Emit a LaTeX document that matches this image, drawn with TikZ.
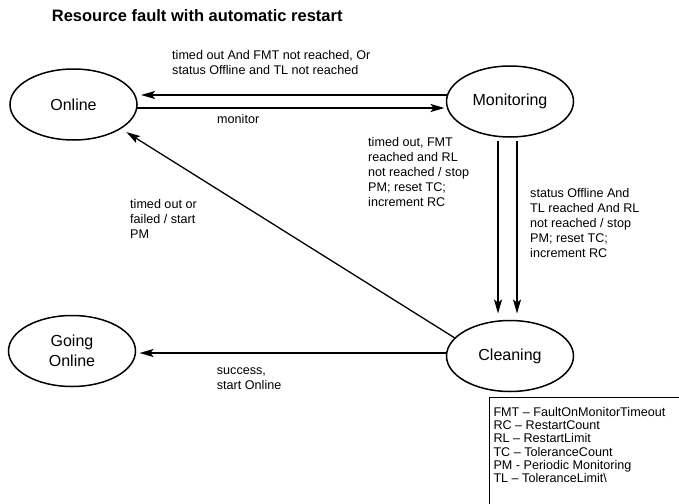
\documentclass[tikz,border=0pt]{standalone}
\usepackage{fontspec}
\setmainfont{Liberation Sans}
\usetikzlibrary{shapes.geometric,arrows.meta}
\newcommand{\fl}{\rule{0pt}{10pt}}
\begin{document}
\begin{tikzpicture}[x=1pt,y=1pt,
  state/.style={ellipse, draw, line width=1.5pt, inner sep=0pt, outer sep=0pt,
    minimum width=127pt, minimum height=71pt, align=center,
    font=\fontsize{16}{20}\selectfont},
  arr/.style={line width=1.6pt, -{Stealth[length=14pt,width=8pt,inset=3pt]}},
  lbl/.style={anchor=north west, inner sep=0pt, align=left,
    font=\fontsize{12.6}{15}\selectfont},
  legtext/.style={anchor=north west, inner sep=0pt, align=left,
    font=\fontsize{12.6}{13.33}\selectfont}]
\useasboundingbox (0,0) rectangle (679,-503);
\fill[white] (0,0) rectangle (679,-503);

\node[anchor=base west, inner sep=0pt, font=\fontsize{16.5}{20}\selectfont\bfseries]
  (title) at (51.7,-21.7) {Resource fault with automatic restart};

\node[state] (on)  at (73.5,-104.5) {Online};
\node[state] (mon) at (510,-101.5) {Monitoring};
\node[state] (cl)  at (510,-356) {Cleaning};
\node[state] (go)  at (72,-351) {Going\\Online};

\coordinate (yU) at (0,-95);
\coordinate (yL) at (0,-108);
\coordinate (yG) at (0,-353);
\coordinate (xA) at (498,0);
\coordinate (xB) at (517,0);

\draw[arr, shorten >=4pt] (mon.west |- yU) -- (on.east |- yU);
\draw[arr, shorten >=2pt] (on.east |- yL) -- (mon.west |- yL);
\draw[arr, shorten <=4pt, shorten >=7pt] (mon.south -| xA) -- (cl.north -| xA);
\draw[arr, shorten <=4pt, shorten >=7pt] (mon.south -| xB) -- (cl.north -| xB);
\draw[arr, line width=1.3pt, shorten >=7pt] (cl.162.8) -- (on.-27.2);
\draw[arr, shorten >=4pt] (cl.west |- yG) -- (go.east |- yG);

\node[lbl] (l1) at (172,-49.3) {\fl timed out And FMT not reached, Or\\status Offline and TL not reached};
\node[lbl] (l2) at (217,-113) {\fl monitor};
\node[lbl] (l3) at (368,-136) {\fl timed out, FMT\\reached and RL\\not reached / stop\\PM; reset TC;\\increment RC};
\node[lbl] (l4) at (530,-187.3) {\fl status Offline And\\TL reached And RL\\not reached / stop\\PM; reset TC;\\increment RC};
\node[lbl] (l5) at (130,-198) {\fl timed out or\\failed / start\\PM};
\node[lbl] (l6) at (216.7,-364) {\fl success,\\start Online};

\begin{scope}
\clip (0,0) rectangle (679,-503);
\draw[line width=1.8pt] (489.5,-520) |- (700,-397.5);
\end{scope}
\node[legtext] (leg) at (493.3,-406) {\fl FMT – FaultOnMonitorTimeout\\RC – RestartCount\\RL – RestartLimit\\TC – ToleranceCount\\PM - Periodic Monitoring\\TL – ToleranceLimit\textbackslash};
\end{tikzpicture}
\end{document}
